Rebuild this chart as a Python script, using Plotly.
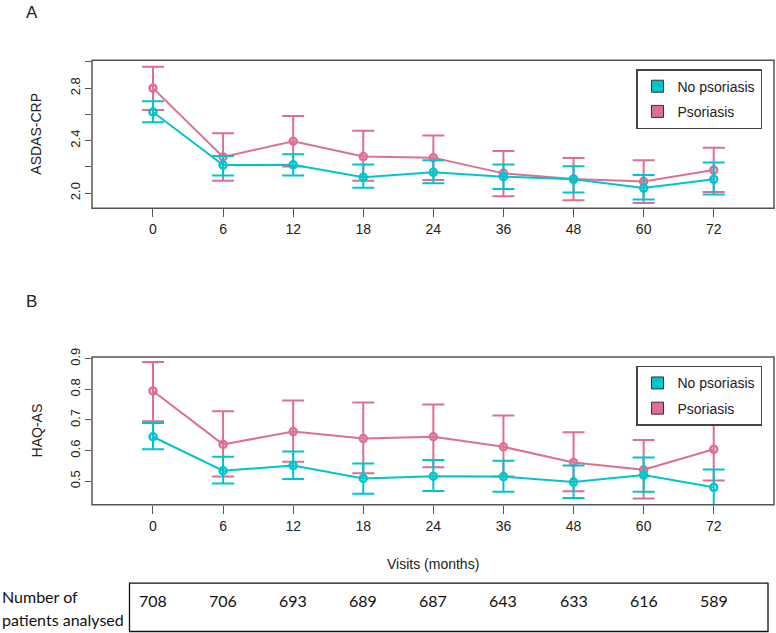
import plotly.graph_objects as go

# ---------------- data ----------------
visits = ["0", "6", "12", "18", "24", "36", "48", "60", "72"]
n_patients = [708, 706, 693, 689, 687, 643, 633, 616, 589]

asdas_no_mean = [2.618, 2.213, 2.215, 2.120, 2.158, 2.125, 2.105, 2.038, 2.105]
asdas_no_low = [2.540, 2.133, 2.133, 2.040, 2.075, 2.030, 2.005, 1.950, 1.988]
asdas_no_up = [2.700, 2.283, 2.295, 2.218, 2.250, 2.218, 2.205, 2.138, 2.233]
asdas_ps_mean = [2.800, 2.275, 2.395, 2.278, 2.270, 2.150, 2.108, 2.088, 2.175]
asdas_ps_low = [2.633, 2.093, 2.202, 2.093, 2.100, 1.975, 1.945, 1.925, 2.008]
asdas_ps_up = [2.963, 2.455, 2.588, 2.475, 2.438, 2.320, 2.268, 2.250, 2.345]

haq_no_mean = [0.645, 0.534, 0.551, 0.509, 0.516, 0.515, 0.497, 0.520, 0.480]
haq_no_low = [0.604, 0.4925, 0.507, 0.459, 0.468, 0.465, 0.445, 0.465, 0.422]
haq_no_up = [0.690, 0.580, 0.597, 0.558, 0.569, 0.567, 0.551, 0.577, 0.538]
haq_ps_mean = [0.7945, 0.620, 0.662, 0.639, 0.645, 0.612, 0.561, 0.537, 0.604]
haq_ps_low = [0.696, 0.515, 0.5635, 0.526, 0.545, 0.515, 0.467, 0.443, 0.502]
haq_ps_up = [0.889, 0.728, 0.763, 0.757, 0.750, 0.714, 0.660, 0.634, 0.706]

asdas_ticks = [2.0, 2.2, 2.4, 2.6, 2.8, 3.0]
asdas_ticktext = ["2.0", "", "2.4", "", "2.8", ""]
haq_ticks = [0.5, 0.6, 0.7, 0.8, 0.9]
haq_ticktext = ["0.5", "0.6", "0.7", "0.8", "0.9"]

# ---------------- style ----------------
W, H = 776, 633
CYAN = "#00C5CD"
PINK = "#DB7093"
AX = "#555555"
TXT = "#222222"
FONT = "Liberation Sans, Arial, sans-serif"
TFONT = "Lato, Open Sans, sans-serif"


def px(x):
    return x / W


def py(y):
    return 1 - y / H


idx = list(range(len(visits)))

fig = go.Figure()


def add_series(mean, low, up, color, xa, ya):
    fig.add_trace(go.Scatter(
        x=idx, y=mean, xaxis=xa, yaxis=ya, mode="lines+markers",
        line=dict(color=color, width=2),
        marker=dict(symbol="circle-open", size=7, color=color, line=dict(width=2.5, color=color)),
        error_y=dict(type="data", symmetric=False,
                     array=[u - m for u, m in zip(up, mean)],
                     arrayminus=[m - l for m, l in zip(mean, low)],
                     color=color, thickness=2, width=11),
        showlegend=False, hoverinfo="skip", cliponaxis=True,
    ))


add_series(asdas_ps_mean, asdas_ps_low, asdas_ps_up, PINK, "x", "y")
add_series(asdas_no_mean, asdas_no_low, asdas_no_up, CYAN, "x", "y")
add_series(haq_ps_mean, haq_ps_low, haq_ps_up, PINK, "x2", "y2")
add_series(haq_no_mean, haq_no_low, haq_no_up, CYAN, "x2", "y2")

# legend entries
for name, col in [("No psoriasis", CYAN), ("Psoriasis", PINK)]:
    fig.add_trace(go.Scatter(x=[None], y=[None], xaxis="x", yaxis="y", mode="markers", name=name,
                             marker=dict(symbol="square", size=12, color=col, line=dict(color="#333", width=1)),
                             legend="legend", legendgroup="a" + name))
    fig.add_trace(go.Scatter(x=[None], y=[None], xaxis="x2", yaxis="y2", mode="markers", name=name,
                             marker=dict(symbol="square", size=12, color=col, line=dict(color="#333", width=1)),
                             legend="legend2", legendgroup="b" + name))

xdom = [px(92), px(774)]
xrange_ = [-0.87, 8.86]
common_x = dict(range=xrange_, tickvals=idx, ticktext=visits, ticks="outside", ticklen=8,
                tickcolor=AX, tickwidth=1, showline=False, showgrid=False, zeroline=False,
                tickfont=dict(family=FONT, size=14, color=TXT), domain=xdom, fixedrange=True)
common_y = dict(ticks="outside", ticklen=6, tickcolor=AX, tickwidth=1, showline=False,
                showgrid=False, zeroline=False, tickangle=-90,
                tickfont=dict(family=FONT, size=13, color=TXT), fixedrange=True)

legend_style = dict(bgcolor="white", bordercolor="#444", borderwidth=1.5,
                    font=dict(family=FONT, size=14, color=TXT),
                    xanchor="left", yanchor="top", itemsizing="trace", tracegroupgap=4)

fig.update_layout(
    width=W, height=H, margin=dict(l=0, r=0, t=0, b=0),
    paper_bgcolor="white", plot_bgcolor="white",
    xaxis=dict(anchor="y", **common_x),
    xaxis2=dict(anchor="y2", **common_x),
    yaxis=dict(anchor="x", domain=[py(202), py(52)], range=[1.885, 3.0125],
               tickvals=asdas_ticks, ticktext=asdas_ticktext, **common_y),
    yaxis2=dict(anchor="x2", domain=[py(503), py(353)], range=[0.4226, 0.9055],
                tickvals=haq_ticks, ticktext=haq_ticktext, **common_y),
    legend=dict(x=px(636), y=py(61), **legend_style),
    legend2=dict(x=px(636), y=py(362), **legend_style),
    showlegend=True,
)

# plot boxes
for xr, yr in [("x domain", "y domain"), ("x2 domain", "y2 domain")]:
    fig.add_shape(type="rect", xref=xr, yref=yr, x0=0, x1=1, y0=0, y1=1,
                  line=dict(color=AX, width=1.5), fillcolor="rgba(0,0,0,0)", layer="above")

# table box
fig.add_shape(type="rect", xref="paper", yref="paper", x0=px(129.5), x1=px(768),
              y0=py(631.5), y1=py(582.5), line=dict(color="#111", width=1.3))

ann = []
ann.append(dict(text="A", x=px(31.7), y=py(4), xref="paper", yref="paper", showarrow=False,
                font=dict(family=FONT, size=17, color=TXT), xanchor="center", yanchor="middle"))
ann.append(dict(text="B", x=px(31.7), y=py(297), xref="paper", yref="paper", showarrow=False,
                font=dict(family=FONT, size=17, color=TXT), xanchor="center", yanchor="middle"))
ann.append(dict(text="ASDAS-CRP", x=px(36.5), y=py(127), xref="paper", yref="paper", showarrow=False,
                textangle=-90, font=dict(family=FONT, size=14, color=TXT), xanchor="center", yanchor="middle"))
ann.append(dict(text="HAQ-AS", x=px(36.5), y=py(428), xref="paper", yref="paper", showarrow=False,
                textangle=-90, font=dict(family=FONT, size=14, color=TXT), xanchor="center", yanchor="middle"))
ann.append(dict(text="Visits (months)", x=px(433), y=py(563), xref="paper", yref="paper", showarrow=False,
                font=dict(family=FONT, size=14, color=TXT), xanchor="center", yanchor="middle"))
ann.append(dict(text="Number of", x=0, y=py(596), xref="paper", yref="paper", showarrow=False,
                font=dict(family=TFONT, size=16, color="#111"), xanchor="left", yanchor="middle"))
ann.append(dict(text="patients analysed", x=0, y=py(619), xref="paper", yref="paper", showarrow=False,
                font=dict(family=TFONT, size=16, color="#111"), xanchor="left", yanchor="middle"))
for i, n in zip(idx, n_patients):
    ann.append(dict(text=str(n), x=i, y=py(600), xref="x2", yref="paper", showarrow=False,
                    font=dict(family=TFONT, size=16, color="#111"), xanchor="center", yanchor="middle"))
fig.update_layout(annotations=ann)

fig.write_html("out.html", config={"displayModeBar": False},
               post_script="document.body.style.margin='0';document.body.style.overflow='hidden';")
